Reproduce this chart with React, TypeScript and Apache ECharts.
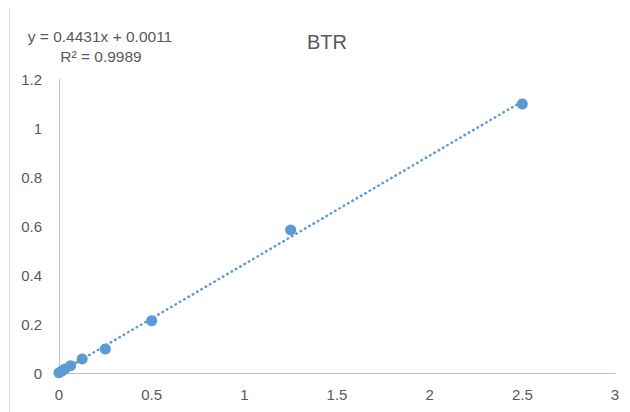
import React, { useEffect, useRef } from "react";
import * as echarts from "echarts";

// Concentration series and measured responses
const concentrations = [2.5, 1.25, 0.5, 0.25, 0.125, 0.0625, 0.03125, 0.015625, 0];
const responses = [1.098, 0.584, 0.213, 0.098, 0.057, 0.03, 0.016, 0.008, 0.001];

// Linear trendline coefficients shown in the equation label
const slope = 0.4431;
const intercept = 0.0011;
const rSquared = 0.9989;

const xTicks = [0, 0.5, 1, 1.5, 2, 2.5, 3];
const yTicks = [0, 0.2, 0.4, 0.6, 0.8, 1, 1.2];

const BLUE = "#5B9BD5";
const TEXT = "#595959";
const FONT = "'Liberation Sans', Arial, sans-serif";

export default function App() {
  const ref = useRef<HTMLDivElement>(null);

  useEffect(() => {
    if (!ref.current) return;
    const chart = echarts.init(ref.current, undefined, { renderer: "svg" });

    const points = concentrations.map((x, i) => [x, responses[i]]);
    const xMin = Math.min(...concentrations);
    const xMax = Math.max(...concentrations);
    const trend = [
      [xMin, slope * xMin + intercept],
      [xMax, slope * xMax + intercept],
    ];

    const label = (text: string, x: number, y: number, size: number) => ({
      type: "text",
      x,
      y,
      style: {
        text,
        font: `${size}px ${FONT}`,
        fill: TEXT,
        align: "center",
        verticalAlign: "middle",
      },
    });

    chart.setOption({
      animation: false,
      backgroundColor: "#ffffff",
      textStyle: { fontFamily: FONT },
      graphic: [
        {
          type: "rect",
          shape: { x: 9.5, y: 5.5, width: 800, height: 600 },
          style: { fill: "none", stroke: "#D9D9D9", lineWidth: 1 },
          silent: true,
        },
        label("BTR", 327, 42, 20),
        label(`y = ${slope}x + ${intercept}`, 100, 36, 15.5),
        label(`R² = ${rSquared}`, 101, 56, 15.5),
      ],
      grid: { left: 59, right: 15, top: 79, bottom: 39, containLabel: false },
      xAxis: {
        type: "value",
        min: xTicks[0],
        max: xTicks[xTicks.length - 1],
        interval: 0.5,
        axisLine: { show: true, onZero: false, lineStyle: { color: "#BFBFBF", width: 1 } },
        axisTick: { show: false },
        splitLine: { show: false },
        axisLabel: { color: TEXT, fontSize: 15, fontFamily: FONT, margin: 14 },
      },
      yAxis: {
        type: "value",
        min: yTicks[0],
        max: yTicks[yTicks.length - 1],
        interval: 0.2,
        axisLine: { show: true, lineStyle: { color: "#BFBFBF", width: 1 } },
        axisTick: { show: false },
        splitLine: { show: false },
        axisLabel: {
          color: TEXT,
          fontSize: 15,
          fontFamily: FONT,
          margin: 17,
          formatter: (v: number) => String(Math.round(v * 10) / 10),
        },
      },
      series: [
        {
          type: "line",
          data: trend,
          symbol: "none",
          silent: true,
          z: 2,
          lineStyle: { color: BLUE, width: 2.5, type: [0.5, 4.5], cap: "round" },
        },
        {
          type: "scatter",
          data: points,
          symbol: "circle",
          symbolSize: 11,
          z: 3,
          itemStyle: { color: BLUE, opacity: 1 },
        },
      ],
    });

    return () => chart.dispose();
  }, []);

  return <div ref={ref} style={{ width: 630, height: 412, marginLeft: -8, marginTop: -8 }} />;
}
